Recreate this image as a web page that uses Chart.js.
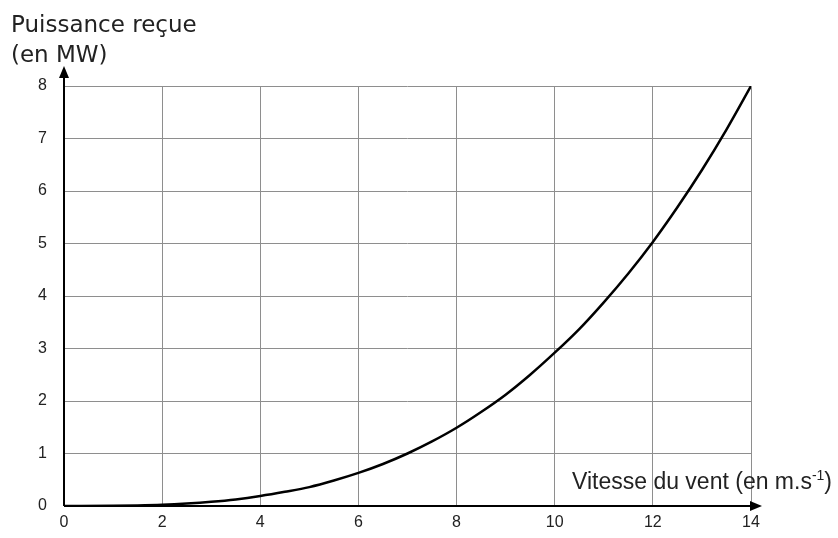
<!DOCTYPE html>
<html>
<head>
<meta charset="utf-8">
<script src="https://cdn.jsdelivr.net/npm/chart.js@4/dist/chart.umd.min.js"></script>
<style>
  html, body { margin: 0; padding: 0; background: #fff; }
  #wrap { width: 838px; height: 538px; }
</style>
</head>
<body>
<div id="wrap"><canvas id="c" width="838" height="538"></canvas></div>
<script>
// wind speed (m/s) and received power (MW)
const speeds = [0, 1, 1.5, 2, 2.5, 3, 3.5, 4, 4.5, 5, 5.5, 6, 6.5, 7, 7.5, 8, 8.5, 9, 9.5, 10, 10.5, 11, 11.5, 12, 12.5, 13, 13.5, 14];
const power = [0, 0.003, 0.01, 0.023, 0.046, 0.079, 0.125, 0.19, 0.27, 0.36, 0.485, 0.63, 0.80, 1.0, 1.23, 1.49, 1.79, 2.12, 2.5, 2.92, 3.37, 3.88, 4.43, 5.03, 5.69, 6.4, 7.17, 8.0];

const xTicks = [0, 2, 4, 6, 8, 10, 12, 14];
const yTicks = [0, 1, 2, 3, 4, 5, 6, 7, 8];

const yTitle = ['Puissance reçue', '(en MW)'];
const xTitle = 'Vitesse du vent (en m.s';
const xTitleExp = '-1';

const gridColor = '#8e8e8e';
const tickFont = { family: '"Liberation Sans", Arial, sans-serif', size: 16 };

// draws the black axes with arrow heads and the two axis titles
const axesPlugin = {
  id: 'axes',
  afterDraw(chart) {
    const ctx = chart.ctx;
    const xs = chart.scales.x, ys = chart.scales.y;
    const x0 = xs.getPixelForValue(0);
    const y0 = ys.getPixelForValue(0);
    const xEnd = xs.getPixelForValue(14);
    const yEnd = ys.getPixelForValue(8);

    ctx.save();
    ctx.strokeStyle = '#000';
    ctx.fillStyle = '#000';
    ctx.lineWidth = 2;
    ctx.beginPath();
    ctx.moveTo(x0, y0);
    ctx.lineTo(xEnd + 4, y0);
    ctx.moveTo(x0, y0);
    ctx.lineTo(x0, yEnd - 12);
    ctx.stroke();

    // arrow heads
    ctx.beginPath();
    ctx.moveTo(xEnd + 11, y0);
    ctx.lineTo(xEnd - 1, y0 - 5);
    ctx.lineTo(xEnd - 1, y0 + 5);
    ctx.closePath();
    ctx.fill();
    ctx.beginPath();
    ctx.moveTo(x0, yEnd - 20);
    ctx.lineTo(x0 - 5, yEnd - 8);
    ctx.lineTo(x0 + 5, yEnd - 8);
    ctx.closePath();
    ctx.fill();

    // y title
    ctx.fillStyle = '#222';
    ctx.font = '23px "DejaVu Sans", Verdana, sans-serif';
    ctx.textAlign = 'left';
    ctx.textBaseline = 'alphabetic';
    ctx.fillText(yTitle[0], 11, 32);
    ctx.fillText(yTitle[1], 11, 62);

    // x title with superscript
    ctx.font = '23px "Liberation Sans", Arial, sans-serif';
    const tx = 572, ty = 489;
    ctx.fillText(xTitle, tx, ty);
    let w = ctx.measureText(xTitle).width;
    ctx.font = '14px "Liberation Sans", Arial, sans-serif';
    ctx.fillText(xTitleExp, tx + w, ty - 9);
    w += ctx.measureText(xTitleExp).width;
    ctx.font = '23px "Liberation Sans", Arial, sans-serif';
    ctx.fillText(')', tx + w, ty);
    ctx.restore();
  }
};

new Chart(document.getElementById('c'), {
  type: 'line',
  data: {
    datasets: [{
      data: speeds.map((v, i) => ({ x: v, y: power[i] })),
      borderColor: '#000',
      borderWidth: 2.5,
      pointRadius: 0,
      cubicInterpolationMode: 'monotone',
      fill: false
    }]
  },
  options: {
    responsive: false,
    animation: false,
    layout: { padding: { left: 0, top: 86, right: 87, bottom: 0 } },
    plugins: { legend: { display: false }, tooltip: { enabled: false } },
    scales: {
      x: {
        type: 'linear',
        min: 0,
        max: 14,
        afterBuildTicks: s => { s.ticks = xTicks.map(v => ({ value: v })); },
        afterFit: s => { s.height = 32; },
        grid: { color: gridColor, lineWidth: 1, drawTicks: false },
        border: { display: false },
        ticks: { color: '#222', font: tickFont, padding: 7, maxRotation: 0 }
      },
      y: {
        type: 'linear',
        min: 0,
        max: 8,
        afterBuildTicks: s => { s.ticks = yTicks.map(v => ({ value: v })); },
        afterFit: s => { s.width = 64; },
        grid: { color: gridColor, lineWidth: 1, drawTicks: false },
        border: { display: false },
        ticks: { color: '#222', font: tickFont, padding: 17 }
      }
    }
  },
  plugins: [axesPlugin]
});
</script>
</body>
</html>
